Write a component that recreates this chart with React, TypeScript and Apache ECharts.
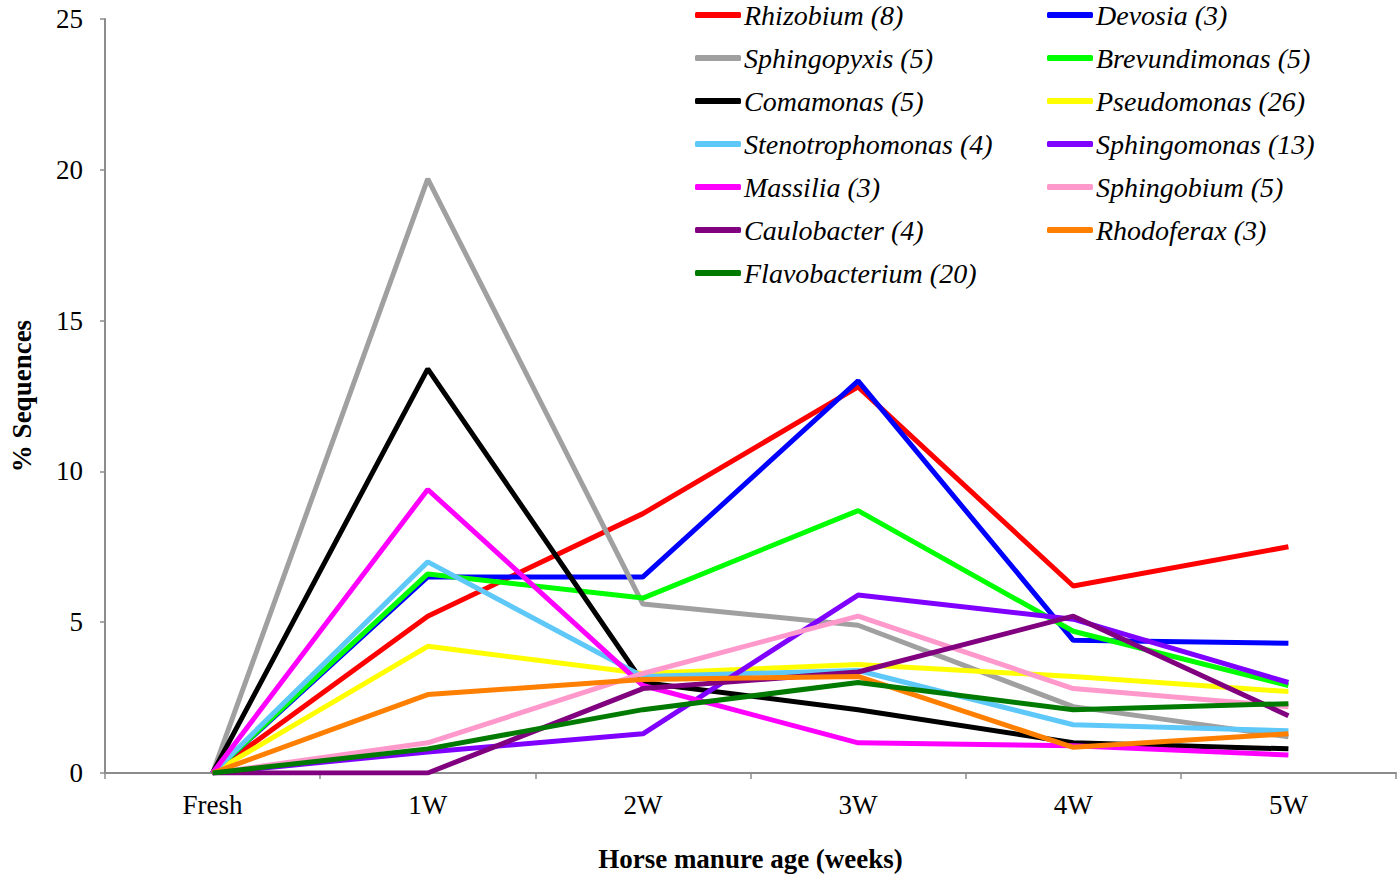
import React, { useEffect, useRef } from "react";
import * as echarts from "echarts";

const categories = ["Fresh", "1W", "2W", "3W", "4W", "5W"];
const yTicks = { min: 0, max: 25, interval: 5 };

const rhizobium = [0, 5.2, 8.6, 12.8, 6.2, 7.5];
const devosia = [0, 6.5, 6.5, 13.0, 4.4, 4.3];
const sphingopyxis = [0, 19.7, 5.6, 4.9, 2.2, 1.2];
const brevundimonas = [0, 6.6, 5.8, 8.7, 4.7, 2.9];
const comamonas = [0, 13.4, 3.0, 2.1, 1.0, 0.8];
const pseudomonas = [0, 4.2, 3.3, 3.6, 3.2, 2.7];
const stenotrophomonas = [0, 7.0, 3.2, 3.4, 1.6, 1.4];
const sphingomonas = [0, 0.7, 1.3, 5.9, 5.1, 3.0];
const massilia = [0, 9.4, 2.9, 1.0, 0.9, 0.6];
const sphingobium = [0, 1.0, 3.3, 5.2, 2.8, 2.2];
const caulobacter = [0, 0, 2.8, 3.35, 5.2, 1.9];
const rhodoferax = [0, 2.6, 3.1, 3.2, 0.85, 1.3];
const flavobacterium = [0, 0.8, 2.1, 3.0, 2.1, 2.3];

const seriesDefs = [
  { name: "Rhizobium (8)", data: rhizobium, color: "#ff0000" },
  { name: "Devosia (3)", data: devosia, color: "#0000ff" },
  { name: "Sphingopyxis (5)", data: sphingopyxis, color: "#a0a0a0" },
  { name: "Brevundimonas (5)", data: brevundimonas, color: "#00ff00" },
  { name: "Comamonas (5)", data: comamonas, color: "#000000" },
  { name: "Pseudomonas (26)", data: pseudomonas, color: "#ffff00" },
  { name: "Stenotrophomonas (4)", data: stenotrophomonas, color: "#5ec8f8" },
  { name: "Sphingomonas (13)", data: sphingomonas, color: "#7f00ff" },
  { name: "Massilia (3)", data: massilia, color: "#ff00ff" },
  { name: "Sphingobium (5)", data: sphingobium, color: "#ff99cc" },
  { name: "Caulobacter (4)", data: caulobacter, color: "#800080" },
  { name: "Rhodoferax (3)", data: rhodoferax, color: "#ff7f00" },
  { name: "Flavobacterium (20)", data: flavobacterium, color: "#007a00" },
];

const SERIF = "'Liberation Serif', 'Times New Roman', serif";

export default function App() {
  const ref = useRef<HTMLDivElement>(null);
  useEffect(() => {
    if (!ref.current) return;
    const chart = echarts.init(ref.current, undefined, { renderer: "svg" });
    const leftNames = seriesDefs.filter((_, i) => i % 2 === 0).map((s) => s.name);
    const rightNames = seriesDefs.filter((_, i) => i % 2 === 1).map((s) => s.name);
    const legendCommon = {
      orient: "vertical",
      top: 0,
      padding: 0,
      itemWidth: 46,
      itemHeight: 6,
      itemGap: 13,
      icon: "roundRect",
      selectedMode: false,
      textStyle: {
        fontFamily: SERIF,
        fontStyle: "italic",
        fontSize: 28,
        color: "#000",
        lineHeight: 30,
        padding: [0, 0, 0, -2],
      },
    };
    chart.setOption({
      animation: false,
      backgroundColor: "#fff",
      grid: { left: 103, right: 4, top: 19, bottom: 121, containLabel: false },
      legend: [
        { ...legendCommon, left: 695, data: leftNames },
        { ...legendCommon, left: 1047, data: rightNames },
      ],
      xAxis: {
        type: "category",
        data: categories,
        boundaryGap: true,
        name: "Horse manure age (weeks)",
        nameLocation: "middle",
        nameGap: 72,
        nameTextStyle: { fontFamily: SERIF, fontWeight: "bold", fontSize: 27, color: "#000" },
        axisLine: { lineStyle: { color: "#8c8c8c", width: 2 } },
        axisTick: { show: true, alignWithLabel: false, length: 6, lineStyle: { color: "#8c8c8c", width: 1.5 } },
        axisLabel: { fontFamily: SERIF, fontSize: 27, color: "#000", margin: 18 },
        splitLine: { show: false },
      },
      yAxis: {
        type: "value",
        min: yTicks.min,
        max: yTicks.max,
        interval: yTicks.interval,
        name: "% Sequences",
        nameLocation: "middle",
        nameGap: 70,
        nameTextStyle: { fontFamily: SERIF, fontWeight: "bold", fontSize: 27, color: "#000" },
        axisLine: { show: true, lineStyle: { color: "#8c8c8c", width: 2 } },
        axisTick: { show: true, length: 5, lineStyle: { color: "#8c8c8c", width: 1.5 } },
        axisLabel: { fontFamily: SERIF, fontSize: 27, color: "#000", margin: 22 },
        splitLine: { show: false },
      },
      series: seriesDefs.map((s) => ({
        name: s.name,
        type: "line",
        data: s.data,
        showSymbol: false,
        symbol: "none",
        lineStyle: { color: s.color, width: 5 },
        itemStyle: { color: s.color },
        emphasis: { disabled: true },
      })),
    });
    return () => chart.dispose();
  }, []);
  return (
    <div
      ref={ref}
      style={{ position: "absolute", left: 0, top: 0, width: 1400, height: 894, background: "#fff" }}
    />
  );
}
